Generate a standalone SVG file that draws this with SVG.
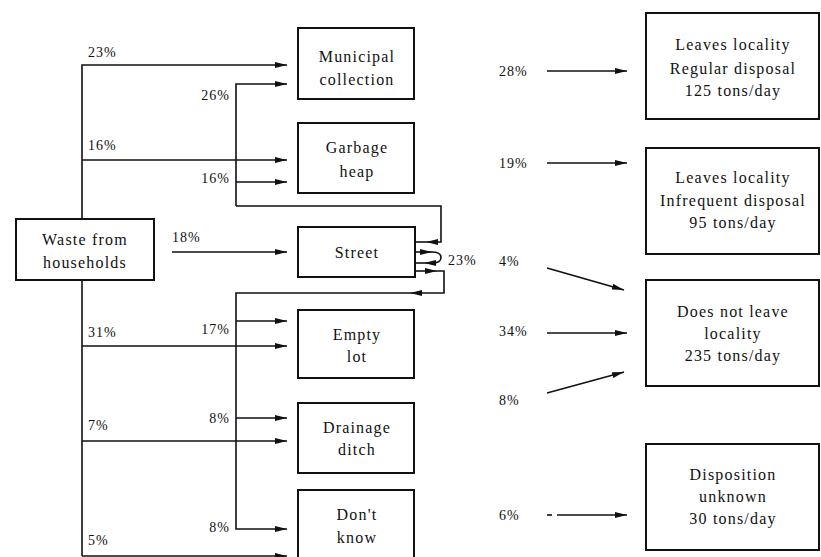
<svg xmlns="http://www.w3.org/2000/svg" width="821" height="557" viewBox="0 0 821 557">
<style>
.box{fill:#fff;stroke:#111;stroke-width:2}
.t{font-family:"Liberation Serif",serif;font-size:16px;letter-spacing:1.2px;fill:#111;text-anchor:middle}
.p{font-family:"Liberation Serif",serif;font-size:14px;letter-spacing:1px;fill:#111}
.pr{font-family:"Liberation Serif",serif;font-size:14px;letter-spacing:1px;fill:#111;text-anchor:end}
.c path{fill:none;stroke:#111;stroke-width:1.6}
.a{marker-end:url(#ah)}
</style>
<defs>
<marker id="ah" markerUnits="userSpaceOnUse" markerWidth="12" markerHeight="6" refX="12" refY="3" orient="auto">
<path d="M0,0 L12,3 L0,6 z" fill="#111"/>
</marker>
</defs>
<rect width="821" height="557" fill="#fff"/>

<g id="households"><rect class="box" x="16" y="219" width="138" height="61"/><text class="t" x="85" y="245">Waste from</text><text class="t" x="85" y="268">households</text></g>

<g id="municipal"><rect class="box" x="298" y="28" width="116" height="71"/><text class="t" x="357" y="62">Municipal</text><text class="t" x="357" y="85">collection</text></g>
<g id="garbage"><rect class="box" x="298" y="123" width="116" height="70"/><text class="t" x="357" y="153">Garbage</text><text class="t" x="357" y="177">heap</text></g>
<g id="street"><rect class="box" x="298" y="227" width="117" height="50"/><text class="t" x="357" y="258">Street</text></g>
<g id="emptylot"><rect class="box" x="298" y="310" width="116" height="68"/><text class="t" x="357" y="340">Empty</text><text class="t" x="357" y="362">lot</text></g>
<g id="ditch"><rect class="box" x="298" y="403" width="116" height="70"/><text class="t" x="357" y="433">Drainage</text><text class="t" x="357" y="455">ditch</text></g>
<g id="dontknow"><rect class="box" x="298" y="490" width="116" height="80"/><text class="t" x="357" y="520">Don't</text><text class="t" x="357" y="543">know</text></g>

<g id="regular"><rect class="box" x="646" y="13" width="173" height="106"/><text class="t" x="733" y="50">Leaves locality</text><text class="t" x="733" y="74">Regular disposal</text><text class="t" x="733" y="96">125 tons/day</text></g>
<g id="infrequent"><rect class="box" x="646" y="148" width="173" height="106"/><text class="t" x="733" y="183">Leaves locality</text><text class="t" x="733" y="206">Infrequent disposal</text><text class="t" x="733" y="228">95 tons/day</text></g>
<g id="notleave"><rect class="box" x="646" y="280" width="173" height="106"/><text class="t" x="733" y="317">Does not leave</text><text class="t" x="733" y="339">locality</text><text class="t" x="733" y="361">235 tons/day</text></g>
<g id="unknown"><rect class="box" x="646" y="444" width="173" height="106"/><text class="t" x="733" y="480">Disposition</text><text class="t" x="733" y="502">unknown</text><text class="t" x="733" y="524">30 tons/day</text></g>

<g id="connectors" class="c">
<path class="a" d="M82,219 V65 H287"/>
<path class="a" d="M82,160 H287"/>
<path d="M82,280 V556"/>
<path class="a" d="M82,346 H287"/>
<path class="a" d="M82,441 H287"/>
<path class="a" d="M82,556 H287"/>
<path class="a" d="M236,206 V84 H287"/>
<path class="a" d="M236,182 H287"/>
<path class="a" d="M236,206 H441 V242 H426"/>
<path d="M426,242 H415"/>
<path class="a" d="M415,252 H432"/>
<path class="a" d="M432,252 Q441,252 441,257.5 Q441,263 432,263 H424"/>
<path d="M424,263 H415"/>
<path class="a" d="M415,271 H437"/>
<path class="a" d="M437,271 H444 V293 H410"/>
<path class="a" d="M410,293 H236 V529 H287"/>
<path class="a" d="M236,321 H287"/>
<path class="a" d="M236,418 H287"/>
<path class="a" d="M172,252 H287"/>
<path class="a" d="M547,71 H627"/>
<path class="a" d="M547,163 H627"/>
<path class="a" d="M547,268 L624,290"/>
<path class="a" d="M547,333 H627"/>
<path class="a" d="M547,393 L624,372"/>
<path d="M547,515 H552"/>
<path class="a" d="M557,515 H627"/>
</g>

<g id="labels">
<text class="p" x="88" y="57">23%</text>
<text class="p" x="88" y="150">16%</text>
<text class="pr" x="230" y="100">26%</text>
<text class="pr" x="230" y="183">16%</text>
<text class="p" x="172" y="242">18%</text>
<text class="p" x="448" y="265">23%</text>
<text class="p" x="88" y="337">31%</text>
<text class="pr" x="230" y="334">17%</text>
<text class="p" x="88" y="430">7%</text>
<text class="pr" x="230" y="423">8%</text>
<text class="pr" x="230" y="532">8%</text>
<text class="p" x="88" y="545">5%</text>
<text class="p" x="499" y="76">28%</text>
<text class="p" x="499" y="168">19%</text>
<text class="p" x="499" y="266">4%</text>
<text class="p" x="499" y="336">34%</text>
<text class="p" x="499" y="405">8%</text>
<text class="p" x="499" y="520">6%</text>
</g>
</svg>
